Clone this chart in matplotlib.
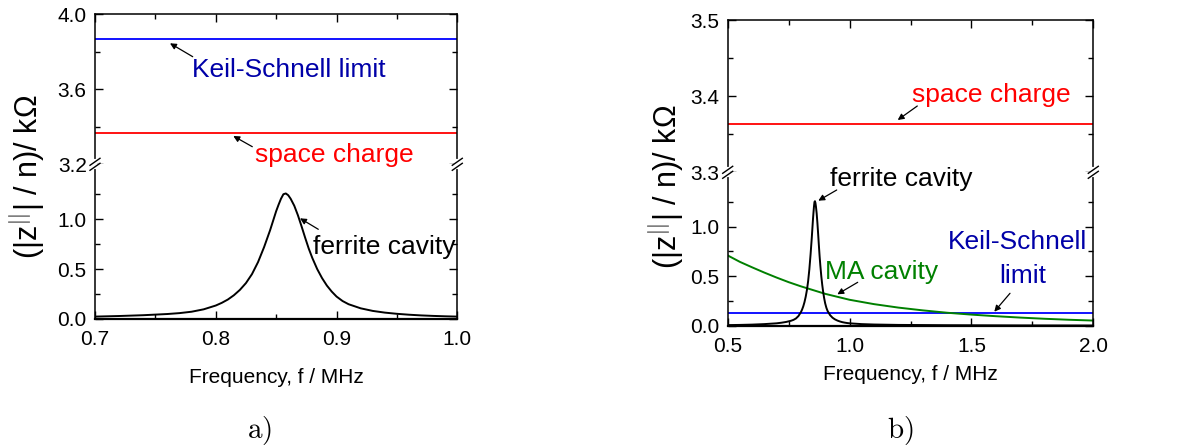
import matplotlib
matplotlib.use("Agg")
import matplotlib.pyplot as plt
from matplotlib.lines import Line2D
from matplotlib.patches import FancyArrowPatch
from matplotlib.ticker import MultipleLocator, FixedLocator, FormatStrFormatter

plt.rcParams["font.family"] = ["Liberation Sans", "DejaVu Sans"]
plt.rcParams["mathtext.fontset"] = "cm"

# values
freq_ferrite = [0.50, 0.55, 0.60, 0.65, 0.70, 0.72, 0.74, 0.76, 0.77, 0.78,
                0.79, 0.80, 0.805, 0.81, 0.815, 0.82, 0.825, 0.83, 0.835, 0.84,
                0.845, 0.850, 0.852, 0.854, 0.856, 0.858, 0.860, 0.862, 0.865,
                0.868, 0.871, 0.874, 0.877, 0.880, 0.884, 0.888, 0.892, 0.896,
                0.90, 0.905, 0.91, 0.92, 0.93, 0.94, 0.95, 0.96, 0.97, 0.98,
                0.99, 1.00, 1.05, 1.10, 1.20, 1.40, 1.70, 2.00]
z_ferrite = [0.006, 0.008, 0.011, 0.016, 0.024, 0.030, 0.038, 0.050, 0.059, 0.073,
             0.097, 0.135, 0.162, 0.195, 0.238, 0.292, 0.36, 0.45, 0.57, 0.72,
             0.89, 1.08, 1.145, 1.205, 1.25, 1.258, 1.24, 1.205, 1.135,
             1.04, 0.93, 0.815, 0.705, 0.61, 0.50, 0.41, 0.335, 0.275,
             0.225, 0.18, 0.148, 0.107, 0.081, 0.064, 0.052, 0.043, 0.036, 0.031,
             0.027, 0.024, 0.016, 0.012, 0.008, 0.005, 0.003, 0.002]

freq_ma = [0.5, 0.55, 0.6, 0.65, 0.7, 0.75, 0.8, 0.9, 1.0, 1.1, 1.2, 1.3,
           1.4, 1.5, 1.6, 1.7, 1.8, 1.9, 2.0]
z_ma = [0.71, 0.645, 0.59, 0.537, 0.487, 0.44, 0.398, 0.322, 0.262, 0.218,
        0.183, 0.155, 0.131, 0.112, 0.096, 0.082, 0.07, 0.06, 0.052]

keil_schnell_a = 3.868
space_charge_a = 3.364
keil_schnell_b = 0.125
space_charge_b = 3.363

W, H = 1195, 448
fig = plt.figure(figsize=(W / 100, H / 100), dpi=100)

red = "#ff0000"
green = "#008000"
blue_line = "#0000ff"
blue_text = "#0000a8"
fs_tick = 15
fs_text = 19
fs_ylab = 22
ylab = "(|z$^{||}$| / n)/ k\u03a9"


def box(x0, y0, x1, y1):
    # image pixels (top-left origin) -> figure rect
    return [x0 / W, 1 - y1 / H, (x1 - x0) / W, (y1 - y0) / H]


def fp(x, y):
    return (x / W, 1 - y / H)


def style(ax, top):
    ax.tick_params(which="both", direction="in", labelsize=fs_tick,
                   right=True, top=top, bottom=not top,
                   labelbottom=not top, width=1)
    ax.tick_params(axis="y", which="both", pad=6)
    ax.tick_params(axis="x", which="both", pad=8)
    ax.tick_params(which="major", length=6)
    ax.tick_params(which="minor", length=3.5)
    for s in ax.spines.values():
        s.set_linewidth(1.1)
    if top:
        ax.spines["bottom"].set_visible(False)
    else:
        ax.spines["top"].set_visible(False)
        ax.spines["bottom"].set_linewidth(1.6)
    ax.yaxis.set_major_formatter(FormatStrFormatter("%.1f"))
    ax.xaxis.set_major_formatter(FormatStrFormatter("%.1f"))


def break_marks(xs, y):
    for x in xs:
        fig.add_artist(Line2D([x / W] * 2, [1 - (y - 3) / H, 1 - (y + 3) / H],
                              color="white", lw=3, transform=fig.transFigure))
        for d in (-2.5, 2.5):
            fig.add_artist(Line2D([(x - 5) / W, (x + 5) / W],
                                  [1 - (y + 3.5 + d) / H, 1 - (y - 3.5 + d) / H],
                                  color="black", lw=1.0,
                                  transform=fig.transFigure))


def label(text, x, y, color):
    fig.text(x / W, 1 - y / H, text, color=color, fontsize=fs_text,
             ha="center", va="baseline")


def arrow(tail, head):
    fig.add_artist(FancyArrowPatch(
        fp(*tail), fp(*head), transform=fig.transFigure,
        arrowstyle="-|>", mutation_scale=9, lw=0.9, color="black",
        shrinkA=0, shrinkB=0))


# ---------------- panel a) ----------------
at = fig.add_axes(box(95, 14, 457.3, 164.3))
ab = fig.add_axes(box(95, 164.3, 457.3, 319))

at.axhline(keil_schnell_a, color=blue_line, lw=1.3)
at.axhline(space_charge_a, color=red, lw=1.3)
ab.plot(freq_ferrite, z_ferrite, color="black", lw=1.4)

for ax in (at, ab):
    ax.set_xlim(0.7, 1.0)
    ax.xaxis.set_major_locator(MultipleLocator(0.1))
    ax.xaxis.set_minor_locator(MultipleLocator(0.05))
at.set_ylim(3.2, 4.0)
at.yaxis.set_major_locator(FixedLocator([3.2, 3.6, 4.0]))
at.yaxis.set_minor_locator(FixedLocator([3.4, 3.8]))
ab.set_ylim(0, 1.55)
ab.yaxis.set_major_locator(FixedLocator([0.0, 0.5, 1.0]))
ab.yaxis.set_minor_locator(FixedLocator([0.25, 0.75, 1.25]))
style(at, True)
style(ab, False)
ab.set_xlabel("Frequency, f / MHz", fontsize=fs_tick)
ab.xaxis.set_label_coords(0.5, -0.317)
break_marks([95, 457.3], 164.3)

label("Keil-Schnell limit", 289, 76.7, blue_text)
arrow((192.7, 56.7), (170, 43.3))
label("space charge", 334, 162.3, red)
arrow((252.3, 146.7), (233.3, 136))
label("ferrite cavity", 384.5, 254, "black")
arrow((318.3, 229.3), (300, 218.3))

fig.text(27.5 / W, 1 - 177 / H, ylab, rotation=90,
         fontsize=fs_ylab, ha="center", va="center")
fig.text(259 / W, 1 - 430 / H, r"$\mathrm{a)}$", fontsize=21,
         ha="center", va="center")

# ---------------- panel b) ----------------
bt = fig.add_axes(box(727.7, 20, 1093.3, 172.3))
bb = fig.add_axes(box(727.7, 172.3, 1093.3, 325.7))

bt.axhline(space_charge_b, color=red, lw=1.3)
bb.axhline(keil_schnell_b, color=blue_line, lw=1.3)
bb.plot(freq_ma, z_ma, color=green, lw=1.4)
bb.plot(freq_ferrite, z_ferrite, color="black", lw=1.4)

for ax in (bt, bb):
    ax.set_xlim(0.5, 2.0)
    ax.xaxis.set_major_locator(MultipleLocator(0.5))
    ax.xaxis.set_minor_locator(MultipleLocator(0.25))
bt.set_ylim(3.3, 3.5)
bt.yaxis.set_major_locator(FixedLocator([3.3, 3.4, 3.5]))
bt.yaxis.set_minor_locator(FixedLocator([3.35, 3.45]))
bb.set_ylim(0, 1.55)
bb.yaxis.set_major_locator(FixedLocator([0.0, 0.5, 1.0]))
bb.yaxis.set_minor_locator(FixedLocator([0.25, 0.75, 1.25]))
style(bt, True)
style(bb, False)
bb.set_xlabel("Frequency, f / MHz", fontsize=fs_tick)
bb.xaxis.set_label_coords(0.5, -0.256)
break_marks([727.7, 1093.3], 172.3)

label("space charge", 991.3, 101.7, red)
arrow((917.3, 106), (897.7, 120))
label("ferrite cavity", 901.3, 186, "black")
arrow((836.7, 190), (818.3, 200.7))
label("MA cavity", 882, 279, green)
arrow((857.7, 282.3), (837.3, 294.3))
label("Keil-Schnell", 1017.8, 249.3, blue_text)
label("limit", 1022.5, 283.3, blue_text)
arrow((1010, 293.3), (994.3, 311.7))

fig.text(666.7 / W, 1 - 187 / H, ylab, rotation=90,
         fontsize=fs_ylab, ha="center", va="center")
fig.text(900 / W, 1 - 430 / H, r"$\mathrm{b)}$", fontsize=21,
         ha="center", va="center")

fig.savefig("out.png", dpi=100)
